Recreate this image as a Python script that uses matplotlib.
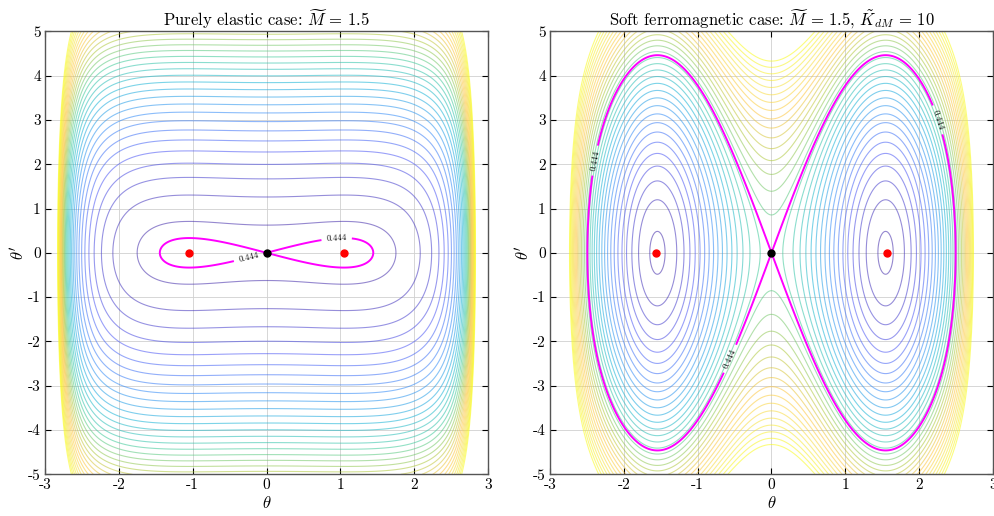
import numpy as np
import matplotlib
matplotlib.use('Agg')
import matplotlib.pyplot as plt
from matplotlib.colors import LinearSegmentedColormap

plt.rcParams['font.family'] = 'serif'
plt.rcParams['font.serif'] = ['cmr10']
plt.rcParams['mathtext.fontset'] = 'cm'
plt.rcParams['axes.formatter.use_mathtext'] = True

# parameters of the two cases
M = 1.5
K_dM = 10.0
H_sep = 1 / M**2          # energy of the saddle at theta = 0

# contour levels of the energy (one list per panel)
levels_elastic = np.linspace(0.64, 19.8, 33)
levels_soft = np.linspace(-9.39, 9.81, 33)

# equilibria: centres (red) and saddle (black)
centres_elastic = [-1.047, 1.047]
centres_soft = [-1.56, 1.56]
saddle = [0.0]

xticks = [-3, -2, -1, 0, 1, 2, 3]
yticks = [-5, -4, -3, -2, -1, 0, 1, 2, 3, 4, 5]

# label positions on the separatrix
lab_elastic = [(0.95, 0.3), (-0.25, -0.05)]
lab_soft = [(-2.45, 2.1), (2.25, 3.0), (-0.55, -2.4)]

# parula colour map
parula = LinearSegmentedColormap.from_list('parula', [
    (0.2422, 0.1504, 0.6603), (0.2810, 0.3228, 0.9578), (0.1786, 0.5289, 0.9682),
    (0.0689, 0.6948, 0.8394), (0.2161, 0.7843, 0.5923), (0.6720, 0.7793, 0.2227),
    (0.9970, 0.7659, 0.2199), (0.9657, 0.8807, 0.2232), (0.9769, 0.9839, 0.0805)])


def energy(th, dth, K):
    return dth**2 / 2 + np.tan(th / 2)**2 / 2 + np.cos(th) / M**2 - K * np.sin(th)**2


th = np.linspace(-3, 3, 801)
dth = np.linspace(-5, 5, 801)
TH, DTH = np.meshgrid(th, dth)

fig = plt.figure(figsize=(9.94, 5.16), dpi=100)
ax1 = fig.add_axes([0.0453, 0.0808, 0.4457, 0.8585])
ax2 = fig.add_axes([0.5533, 0.0808, 0.4457, 0.8585])

panels = [
    (ax1, 0.0, levels_elastic, centres_elastic, lab_elastic,
     r'Purely elastic case: $\widetilde{M}\,=\,1.5$'),
    (ax2, K_dM, levels_soft, centres_soft, lab_soft,
     r'Soft ferromagnetic case: $\widetilde{M}\,=\,1.5$, $\tilde{K}_{dM}\,=\,10$'),
]

for ax, K, levels, centres, labpos, title in panels:
    H = energy(TH, DTH, K)
    ax.contour(TH, DTH, H, levels=levels, cmap=parula, linewidths=0.8, alpha=0.55)
    cs = ax.contour(TH, DTH, H, levels=[H_sep], colors='#ff00ff', linewidths=1.4)
    ax.clabel(cs, fmt='%.3f', fontsize=6.5, colors='k', manual=labpos, inline=True)
    ax.plot(centres, [0] * len(centres), 'o', color='red', ms=5, zorder=5)
    ax.plot(saddle, [0], 'o', color='black', ms=5, zorder=5)

    ax.set_xlim(-3, 3)
    ax.set_ylim(-5, 5)
    ax.set_xticks(xticks)
    ax.set_xticklabels([str(v) for v in xticks])
    ax.set_yticks(yticks)
    ax.set_yticklabels([str(v) for v in yticks])
    ax.grid(True, color='#d0d0d0', linewidth=0.6)
    ax.set_axisbelow(True)
    ax.tick_params(direction='in', top=True, right=True, labelsize=11, length=4, pad=3)
    for s in ax.spines.values():
        s.set_color('#555555')
        s.set_linewidth(1.0)
    ax.set_xlabel(r'$\theta$', fontsize=12, labelpad=2)
    ax.set_ylabel(r"$\theta'$", fontsize=12, labelpad=0)
    ax.set_title(title, fontsize=12, pad=4)

fig.savefig('out.png', dpi=100)
